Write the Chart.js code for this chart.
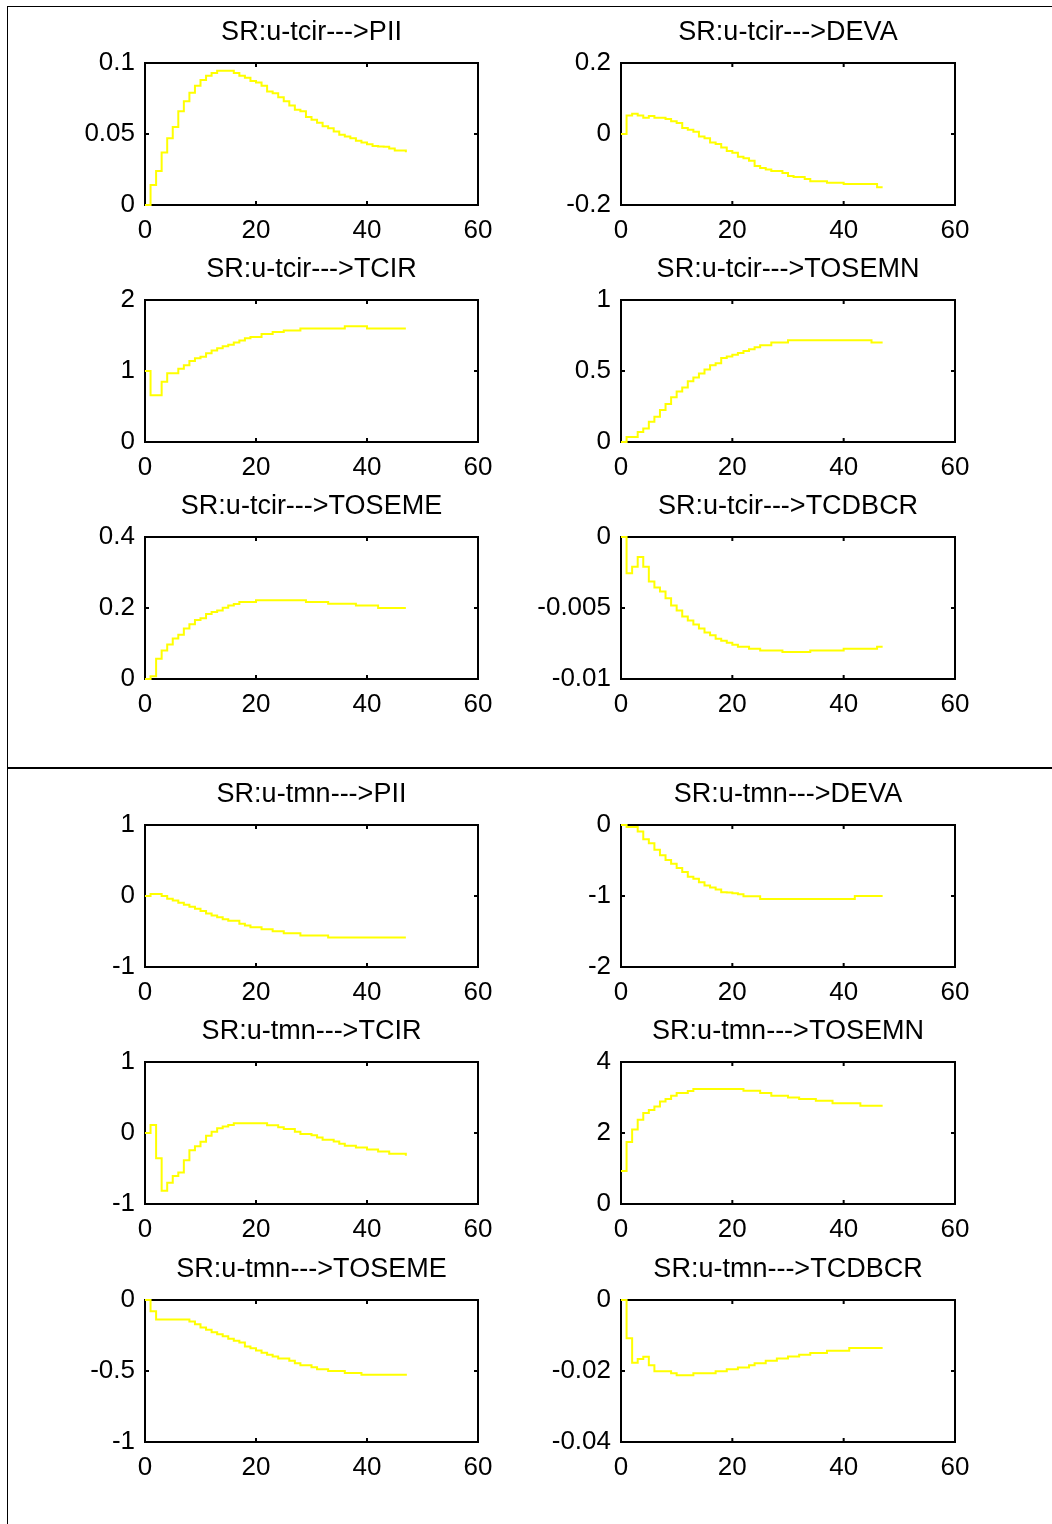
<!DOCTYPE html>
<html>
<head>
<meta charset="utf-8">
<script src="https://cdn.jsdelivr.net/npm/chart.js@4.4.0/dist/chart.umd.min.js"></script>
<style>
  body { margin: 0; background: #fff; }
  #page { position: relative; width: 1052px; height: 1524px; overflow: hidden; background: #fff; }
  .rule { position: absolute; background: #000; }
  canvas { position: absolute; }
</style>
</head>
<body>
<div id="page">
  <div class="rule" style="left:7px;top:6px;width:1045px;height:1px"></div>
  <div class="rule" style="left:7px;top:6px;width:1px;height:1518px"></div>
  <div class="rule" style="left:7px;top:767px;width:1045px;height:2px"></div>
</div>
<script>
// periods of the impulse responses
const periods = [0,1,2,3,4,5,6,7,8,9,10,11,12,13,14,15,16,17,18,19,20,21,22,23,
                 24,25,26,27,28,29,30,31,32,33,34,35,36,37,38,39,40,41,42,43,44,45,46,47];
const xTicks = [0, 20, 40, 60];

// shock u-tcir
const tcirPII = [0,0.014,0.024,0.037,0.047,0.055,0.066,0.073,0.079,0.084,0.088,0.091,0.093,0.0945,0.0945,0.0945,
  0.093,0.091,0.0896,0.0874,0.0862,0.084,0.080,0.0787,0.0758,0.073,0.070,0.067,0.066,0.062,0.060,0.058,
  0.0555,0.054,0.0517,0.0495,0.0483,0.047,0.0453,0.044,0.0427,0.0415,0.0412,0.041,0.0398,0.0384,0.0384,0.0372];
const tcirDEVA = [0,0.052,0.057,0.052,0.046,0.051,0.046,0.046,0.042,0.036,0.031,0.017,0.012,0.006,-0.007,-0.012,
  -0.024,-0.028,-0.038,-0.048,-0.053,-0.064,-0.068,-0.075,-0.09,-0.096,-0.1,-0.104,-0.104,-0.11,-0.118,-0.121,
  -0.121,-0.127,-0.133,-0.133,-0.133,-0.137,-0.137,-0.137,-0.141,-0.141,-0.141,-0.141,-0.141,-0.141,-0.15,-0.15];
const tcirTCIR = [1.0,0.66,0.66,0.85,0.97,0.97,1.03,1.08,1.14,1.18,1.20,1.25,1.29,1.32,1.35,1.37,
  1.40,1.43,1.46,1.48,1.48,1.52,1.52,1.55,1.55,1.57,1.57,1.57,1.60,1.60,1.60,1.60,
  1.60,1.60,1.60,1.60,1.63,1.63,1.63,1.63,1.60,1.60,1.60,1.60,1.60,1.60,1.60,1.60];
const tcirTOSEMN = [0,0.036,0.036,0.071,0.095,0.142,0.178,0.225,0.268,0.315,0.355,0.384,0.427,0.455,0.483,0.51,
  0.54,0.555,0.592,0.602,0.614,0.626,0.64,0.654,0.668,0.682,0.682,0.70,0.70,0.70,0.716,0.716,
  0.716,0.716,0.716,0.716,0.716,0.716,0.716,0.716,0.716,0.716,0.716,0.716,0.716,0.70,0.70,0.70];
const tcirTOSEME = [0,0.008,0.057,0.08,0.097,0.114,0.125,0.142,0.154,0.166,0.171,0.183,0.189,0.193,0.201,0.207,
  0.211,0.217,0.217,0.217,0.222,0.222,0.222,0.222,0.222,0.222,0.222,0.222,0.222,0.217,0.217,0.217,
  0.217,0.212,0.212,0.212,0.212,0.212,0.207,0.207,0.207,0.207,0.200,0.200,0.200,0.200,0.200,0.200];
const tcirTCDBCR = [0,-0.00256,-0.00209,-0.0014,-0.0021,-0.00313,-0.00355,-0.00384,-0.00431,-0.00483,-0.00517,-0.0056,
  -0.00588,-0.00616,-0.00645,-0.00673,-0.00692,-0.00716,-0.0073,-0.00744,-0.00758,-0.00773,-0.00773,-0.00787,
  -0.00787,-0.00799,-0.00799,-0.00799,-0.00799,-0.0081,-0.0081,-0.0081,-0.0081,-0.0081,-0.00799,-0.00799,
  -0.00799,-0.00799,-0.00799,-0.00799,-0.00787,-0.00787,-0.00787,-0.00787,-0.00787,-0.00787,-0.00773,-0.00773];

// shock u-tmn
const tmnPII = [0,0.028,0.028,0,-0.038,-0.062,-0.095,-0.123,-0.152,-0.18,-0.213,-0.246,-0.275,-0.30,-0.327,-0.35,
  -0.35,-0.39,-0.417,-0.44,-0.44,-0.47,-0.47,-0.497,-0.497,-0.525,-0.525,-0.525,-0.555,-0.555,-0.555,-0.555,
  -0.555,-0.583,-0.583,-0.583,-0.583,-0.583,-0.583,-0.583,-0.583,-0.583,-0.583,-0.583,-0.583,-0.583,-0.583,-0.583];
const tmnDEVA = [0,-0.028,-0.028,-0.09,-0.2,-0.256,-0.35,-0.427,-0.493,-0.545,-0.607,-0.663,-0.73,-0.758,-0.806,-0.853,
  -0.88,-0.91,-0.948,-0.95,-0.96,-0.976,-1.005,-1.005,-1.005,-1.043,-1.043,-1.043,-1.043,-1.043,-1.043,-1.043,
  -1.043,-1.043,-1.043,-1.043,-1.043,-1.043,-1.043,-1.043,-1.043,-1.043,-1.0,-1.0,-1.0,-1.0,-1.0,-1.0];
const tmnTCIR = [0,0.114,-0.355,-0.815,-0.70,-0.607,-0.555,-0.384,-0.242,-0.185,-0.123,-0.038,0.019,0.066,0.09,0.114,
  0.137,0.137,0.137,0.137,0.137,0.137,0.109,0.109,0.08,0.057,0.057,0.019,-0.014,-0.014,-0.033,-0.062,
  -0.095,-0.095,-0.118,-0.152,-0.18,-0.18,-0.204,-0.204,-0.232,-0.232,-0.26,-0.26,-0.294,-0.294,-0.294,-0.32];
const tmnTOSEMN = [0.93,1.75,2.10,2.37,2.56,2.65,2.75,2.89,2.96,3.05,3.13,3.13,3.18,3.24,3.24,3.24,
  3.24,3.24,3.24,3.24,3.24,3.24,3.19,3.19,3.19,3.13,3.13,3.05,3.05,3.05,3.00,3.00,
  2.96,2.96,2.96,2.91,2.91,2.91,2.84,2.84,2.84,2.84,2.84,2.77,2.77,2.77,2.77,2.77];
const tmnTOSEME = [0,-0.08,-0.137,-0.137,-0.137,-0.137,-0.137,-0.137,-0.152,-0.17,-0.194,-0.209,-0.227,-0.242,-0.256,-0.273,
  -0.287,-0.30,-0.327,-0.339,-0.355,-0.372,-0.386,-0.398,-0.412,-0.412,-0.427,-0.445,-0.46,-0.46,-0.474,-0.488,
  -0.488,-0.50,-0.50,-0.50,-0.514,-0.514,-0.514,-0.526,-0.526,-0.526,-0.526,-0.526,-0.526,-0.526,-0.526,-0.533];
const tmnTCDBCR = [0,-0.0108,-0.0177,-0.0166,-0.016,-0.0184,-0.0201,-0.0201,-0.0201,-0.0206,-0.0212,-0.0212,
  -0.0212,-0.0206,-0.0206,-0.0206,-0.0206,-0.0201,-0.0201,-0.0195,-0.0195,-0.019,-0.019,-0.0184,
  -0.0178,-0.0178,-0.0171,-0.0171,-0.0165,-0.0165,-0.0159,-0.0159,-0.0154,-0.0154,-0.0149,-0.0149,
  -0.0149,-0.0143,-0.0143,-0.0143,-0.0143,-0.0135,-0.0135,-0.0135,-0.0135,-0.0135,-0.0135,-0.0135];

// y tick labels of every panel
const yTicksTcirPII = [0, 0.05, 0.1];
const yTicksTcirDEVA = [-0.2, 0, 0.2];
const yTicksTcirTCIR = [0, 1, 2];
const yTicksTcirTOSEMN = [0, 0.5, 1];
const yTicksTcirTOSEME = [0, 0.2, 0.4];
const yTicksTcirTCDBCR = [-0.01, -0.005, 0];
const yTicksTmnPII = [-1, 0, 1];
const yTicksTmnDEVA = [-2, -1, 0];
const yTicksTmnTCIR = [-1, 0, 1];
const yTicksTmnTOSEMN = [0, 2, 4];
const yTicksTmnTOSEME = [-1, -0.5, 0];
const yTicksTmnTCDBCR = [-0.04, -0.02, 0];

const panels = [
  { title: 'SR:u-tcir--->PII',    data: tcirPII,    yTicks: yTicksTcirPII },
  { title: 'SR:u-tcir--->DEVA',   data: tcirDEVA,   yTicks: yTicksTcirDEVA },
  { title: 'SR:u-tcir--->TCIR',   data: tcirTCIR,   yTicks: yTicksTcirTCIR },
  { title: 'SR:u-tcir--->TOSEMN', data: tcirTOSEMN, yTicks: yTicksTcirTOSEMN },
  { title: 'SR:u-tcir--->TOSEME', data: tcirTOSEME, yTicks: yTicksTcirTOSEME },
  { title: 'SR:u-tcir--->TCDBCR', data: tcirTCDBCR, yTicks: yTicksTcirTCDBCR },
  { title: 'SR:u-tmn--->PII',     data: tmnPII,     yTicks: yTicksTmnPII },
  { title: 'SR:u-tmn--->DEVA',    data: tmnDEVA,    yTicks: yTicksTmnDEVA },
  { title: 'SR:u-tmn--->TCIR',    data: tmnTCIR,    yTicks: yTicksTmnTCIR },
  { title: 'SR:u-tmn--->TOSEMN',  data: tmnTOSEMN,  yTicks: yTicksTmnTOSEMN },
  { title: 'SR:u-tmn--->TOSEME',  data: tmnTOSEME,  yTicks: yTicksTmnTOSEME },
  { title: 'SR:u-tmn--->TCDBCR',  data: tmnTCDBCR,  yTicks: yTicksTmnTCDBCR }
];

// layout of the grid (page pixels)
const colLeft = [40, 516];
const plotWidth = [333, 334];
const rowPlotTop = [63, 300, 537, 825, 1062, 1300];
const plotHeight = 142;
const axisWidth = 105;
const titleBand = 55;
const xAxisBand = 45;
const FONT = "'Liberation Sans', Arial, Helvetica, sans-serif";

// MATLAB style box with inward tick marks, title centred over the axes
const matlabBox = {
  id: 'matlabBox',
  beforeDatasetsDraw(chart, args, opts) {
    const { ctx, chartArea: a, scales } = chart;
    ctx.save();
    ctx.strokeStyle = '#000';
    ctx.lineWidth = 2;
    ctx.strokeRect(a.left, a.top, a.right - a.left, a.bottom - a.top);
    ctx.beginPath();
    scales.x.ticks.forEach(t => {
      const px = scales.x.getPixelForValue(t.value);
      ctx.moveTo(px, a.bottom); ctx.lineTo(px, a.bottom - 4);
      ctx.moveTo(px, a.top); ctx.lineTo(px, a.top + 4);
    });
    scales.y.ticks.forEach(t => {
      const py = scales.y.getPixelForValue(t.value);
      ctx.moveTo(a.left, py); ctx.lineTo(a.left + 4, py);
      ctx.moveTo(a.right, py); ctx.lineTo(a.right - 4, py);
    });
    ctx.stroke();

    ctx.fillStyle = '#000';
    ctx.font = '27px ' + FONT;
    ctx.textAlign = 'center';
    ctx.textBaseline = 'middle';
    ctx.fillText(opts.text, (a.left + a.right) / 2, a.top - 30);
    ctx.restore();
  }
};

const page = document.getElementById('page');

panels.forEach((p, i) => {
  const col = i % 2;
  const row = Math.floor(i / 2);
  const width = axisWidth + plotWidth[col] + 25;
  const height = titleBand + plotHeight + xAxisBand;

  const canvas = document.createElement('canvas');
  canvas.width = width;
  canvas.height = height;
  canvas.style.left = colLeft[col] + 'px';
  canvas.style.top = (rowPlotTop[row] - titleBand) + 'px';
  page.appendChild(canvas);

  new Chart(canvas.getContext('2d'), {
    type: 'line',
    data: {
      datasets: [{
        data: periods.map((x, k) => ({ x: x, y: p.data[k] })),
        borderColor: '#ffff00',
        borderWidth: 2,
        stepped: true,
        pointRadius: 0,
        fill: false,
        clip: false
      }]
    },
    options: {
      responsive: false,
      animation: false,
      events: [],
      layout: { padding: { left: 0, right: width - axisWidth - plotWidth[col], top: titleBand, bottom: 0 } },
      plugins: {
        legend: { display: false },
        tooltip: { enabled: false },
        title: { display: false },
        matlabBox: { text: p.title }
      },
      scales: {
        x: {
          type: 'linear',
          min: 0,
          max: 60,
          afterBuildTicks: s => { s.ticks = xTicks.map(v => ({ value: v })); },
          afterFit: s => { s.height = xAxisBand; },
          grid: { display: false, drawTicks: false },
          border: { display: false },
          ticks: { color: '#000', padding: 10, maxRotation: 0, autoSkip: false,
                   font: { family: FONT, size: 26 }, callback: v => String(v) }
        },
        y: {
          type: 'linear',
          min: p.yTicks[0],
          max: p.yTicks[p.yTicks.length - 1],
          afterBuildTicks: s => { s.ticks = p.yTicks.map(v => ({ value: v })); },
          afterFit: s => { s.width = axisWidth; },
          grid: { display: false, drawTicks: false },
          border: { display: false },
          ticks: { color: '#000', padding: 10, autoSkip: false,
                   font: { family: FONT, size: 26 }, callback: v => String(v) }
        }
      }
    },
    plugins: [matlabBox]
  });
});
</script>
</body>
</html>
